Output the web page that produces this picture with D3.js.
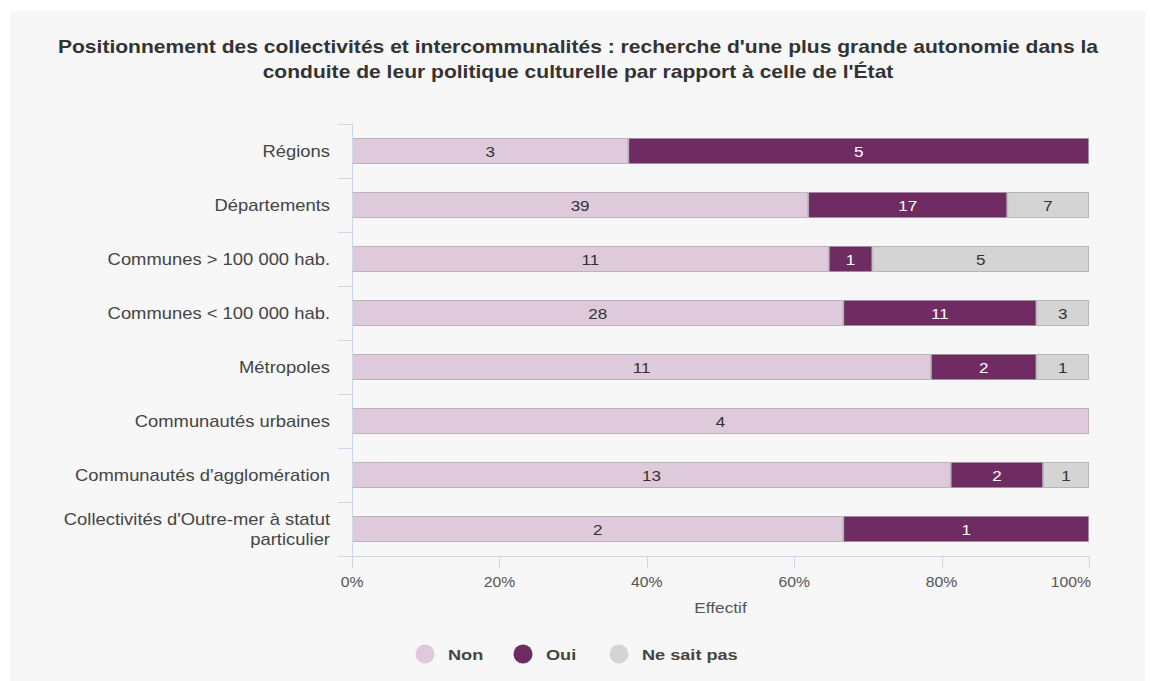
<!DOCTYPE html>
<html lang="fr">
<head>
<meta charset="utf-8">
<script src="https://cdn.jsdelivr.net/npm/d3@7"></script>
<style>
  html, body { margin: 0; padding: 0; background: #ffffff; }
  svg { display: block; font-family: "Liberation Sans", Arial, sans-serif; }
</style>
</head>
<body>
<svg id="chart" width="1150" height="681"></svg>
<script>
// Catégories de collectivités (axe vertical)
const categories = [
  "Régions",
  "Départements",
  "Communes > 100 000 hab.",
  "Communes < 100 000 hab.",
  "Métropoles",
  "Communautés urbaines",
  "Communautés d'agglomération",
  "Collectivités d'Outre-mer à statut particulier"
];

// Effectifs par réponse
const nonValues = [3, 39, 11, 28, 11, 4, 13, 2];
const ouiValues = [5, 17, 1, 11, 2, 0, 2, 1];
const nspValues = [0, 7, 5, 3, 1, 0, 1, 0];

const seriesNames = ["Non", "Oui", "Ne sait pas"];
const seriesColors = ["#dfcadc", "#6e2c62", "#d4d4d4"];
const labelColors = ["#333333", "#ffffff", "#333333"];

const xTicks = [0, 0.2, 0.4, 0.6, 0.8, 1];

const titleLines = [
  "Positionnement des collectivités et intercommunalités : recherche d'une plus grande autonomie dans la",
  "conduite de leur politique culturelle par rapport à celle de l'État"
];

const svg = d3.select("#chart");

// Texte légèrement élargi horizontalement
const SX = 1.15;
function addText(parent, x, y, str, opts = {}) {
  const t = parent.append("text")
    .attr("transform", `translate(${x},${y}) scale(${opts.sx || SX},1)`)
    .attr("text-anchor", opts.anchor || "start")
    .attr("font-size", opts.size || 16)
    .attr("fill", opts.fill || "#444444")
    .text(str);
  if (opts.bold) t.attr("font-weight", "bold");
  return t;
}

// Fond du graphique
svg.append("rect")
  .attr("x", 10).attr("y", 11)
  .attr("width", 1135).attr("height", 670)
  .attr("fill", "#f7f7f7");

// Titre
titleLines.forEach((ln, i) => {
  addText(svg, 578, 53 + i * 25, ln,
    { anchor: "middle", size: 18, bold: true, fill: "#333333", sx: 1.17 });
});

const plot = { left: 352, right: 1089, top: 124, bottom: 556 };

const x = d3.scaleLinear().domain([0, 1]).range([plot.left, plot.right]);
const y = d3.scaleBand().domain(categories).range([plot.top, plot.bottom]);

// Empilement en pourcentage
const rows = categories.map((c, i) => ({
  cat: c,
  Non: nonValues[i],
  Oui: ouiValues[i],
  "Ne sait pas": nspValues[i]
}));
const stacked = d3.stack().keys(seriesNames).offset(d3.stackOffsetExpand)(rows);

const axisColor = "#ccd6eb";
const barH = 26;

// Barres
const g = svg.append("g");
stacked.forEach((layer, si) => {
  const grp = g.append("g");
  layer.forEach(seg => {
    const v = seg.data[seriesNames[si]];
    if (!v) return;
    const yc = y(seg.data.cat) + y.bandwidth() / 2;
    const x0 = x(seg[0]), x1 = x(seg[1]);
    grp.append("rect")
      .attr("x", x0 + 0.5)
      .attr("y", yc - barH / 2 + 0.5)
      .attr("width", x1 - x0 - 1)
      .attr("height", barH - 1)
      .attr("fill", seriesColors[si])
      .attr("stroke", "rgba(150,140,150,0.55)")
      .attr("stroke-width", 1);
    addText(grp, (x0 + x1) / 2, yc + 5.5, v,
      { anchor: "middle", size: 15.5, fill: labelColors[si], sx: 1.1 });
  });
});

// Axe vertical (catégories)
svg.append("line")
  .attr("x1", plot.left + 0.5).attr("x2", plot.left + 0.5)
  .attr("y1", plot.top).attr("y2", plot.bottom + 12)
  .attr("stroke", axisColor);
const boundaries = categories.map(c => y(c)).concat([plot.bottom]);
svg.append("g").selectAll("line")
  .data(boundaries)
  .join("line")
  .attr("x1", plot.left - 14).attr("x2", plot.left)
  .attr("y1", d => Math.round(d) + 0.5).attr("y2", d => Math.round(d) + 0.5)
  .attr("stroke", axisColor);

// Libellés des catégories (retour à la ligne si trop long)
const labelG = svg.append("g");
categories.forEach(c => {
  const yc = y(c) + y.bandwidth() / 2;
  let lines = [c];
  if (c.length > 35) {
    lines = ["Collectivités d'Outre-mer à statut", "particulier"];
  }
  lines.forEach((ln, i) => {
    addText(labelG, 330, yc + 5.5 + (i - (lines.length - 1) / 2) * 20, ln,
      { anchor: "end", size: 16, fill: "#444444" });
  });
});

// Axe horizontal (pourcentages)
svg.append("line")
  .attr("x1", plot.left - 14).attr("x2", plot.right + 1)
  .attr("y1", plot.bottom + 0.5).attr("y2", plot.bottom + 0.5)
  .attr("stroke", axisColor);
const xAxis = svg.append("g");
xAxis.selectAll("line")
  .data(xTicks)
  .join("line")
  .attr("x1", d => Math.round(x(d)) + 0.5).attr("x2", d => Math.round(x(d)) + 0.5)
  .attr("y1", plot.bottom).attr("y2", plot.bottom + 12)
  .attr("stroke", axisColor);
const fmt = d3.format(".0%");
xTicks.forEach(t => {
  // le dernier libellé est calé sur l'extrémité de l'axe
  const last = t === 1;
  addText(xAxis, last ? x(t) + 2 : x(t), plot.bottom + 31, fmt(t),
    { anchor: last ? "end" : "middle", size: 15, fill: "#555555", sx: 1.05 });
});

addText(svg, (plot.left + plot.right) / 2, 613, "Effectif",
  { anchor: "middle", size: 15, fill: "#555555", sx: 1.15 });

// Légende
const legendX = [425, 523, 619];
const legend = svg.append("g");
seriesNames.forEach((name, i) => {
  legend.append("circle")
    .attr("cx", legendX[i]).attr("cy", 654)
    .attr("r", 9.5)
    .attr("fill", seriesColors[i]);
  addText(legend, legendX[i] + 23, 660, name,
    { size: 15.5, bold: true, fill: "#444444", sx: 1.17 });
});
</script>
</body>
</html>
